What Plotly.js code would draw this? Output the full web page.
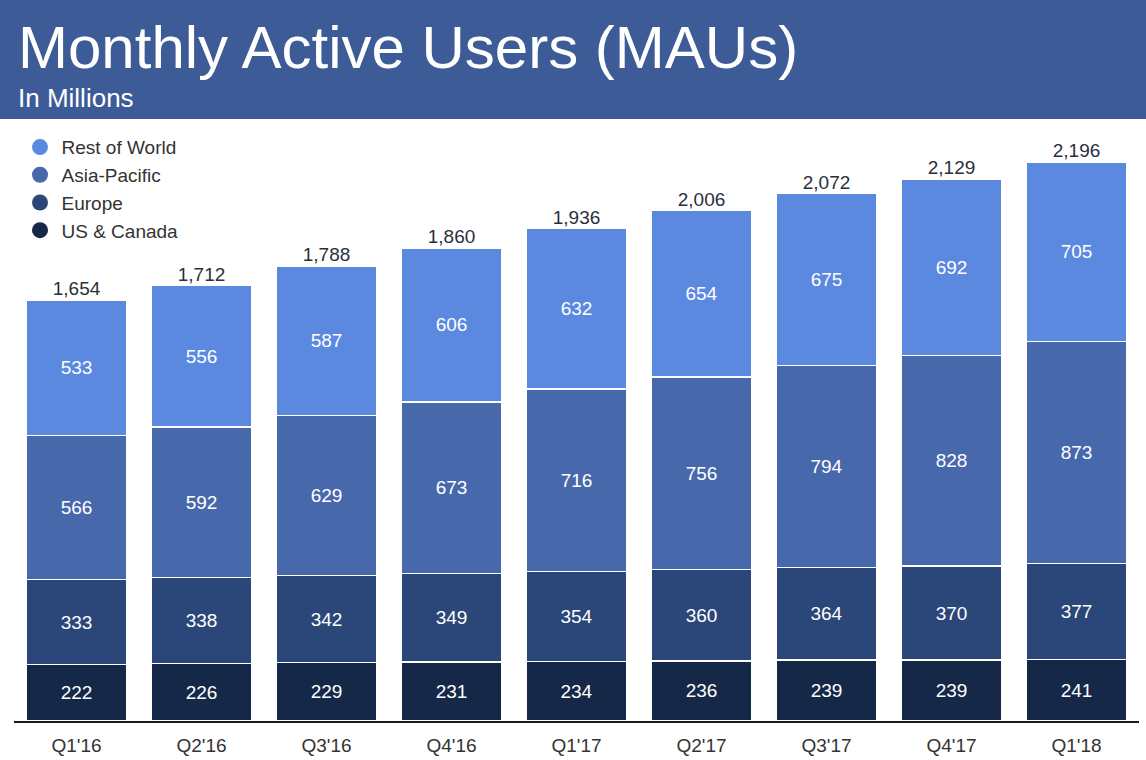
<!DOCTYPE html>
<html>
<head>
<meta charset="utf-8">
<script src="https://cdn.plot.ly/plotly-3.0.1.min.js"></script>
<style>
html,body{margin:0;padding:0;background:#fff;}
#chart{width:1146px;height:760px;}
</style>
</head>
<body>
<div id="chart"></div>
<script>
const quarters = ["Q1'16","Q2'16","Q3'16","Q4'16","Q1'17","Q2'17","Q3'17","Q4'17","Q1'18"];
const usCanada = [222,226,229,231,234,236,239,239,241];
const europe = [333,338,342,349,354,360,364,370,377];
const asiaPacific = [566,592,629,673,716,756,794,828,873];
const restOfWorld = [533,556,587,606,632,654,675,692,705];
const totals = [1654,1712,1788,1860,1936,2006,2072,2129,2196];

const seriesNames = ["US & Canada","Europe","Asia-Pacific","Rest of World"];
const seriesValues = [usCanada, europe, asiaPacific, restOfWorld];
const seriesColors = ["#162848","#2b4678","#4868ac","#5b89e0"];

const traces = [];
seriesValues.forEach((vals, i) => {
  traces.push({
    type: 'bar',
    x: quarters,
    y: vals,
    name: seriesNames[i],
    showlegend: false,
    marker: {color: seriesColors[i], line: {color: '#ffffff', width: 1.5}},
    text: vals.map(String),
    textposition: 'inside',
    insidetextanchor: 'middle',
    textfont: {color: '#ffffff', size: 19, family: 'Liberation Sans, Arial, sans-serif'},
    hoverinfo: 'x+y+name',
    cliponaxis: false
  });
});

traces.push({
  type: 'scatter',
  mode: 'text',
  x: quarters,
  y: totals,
  text: totals.map(v => v.toLocaleString('en-US')),
  textposition: 'top center',
  textfont: {color: '#2b2f3b', size: 19, family: 'Liberation Sans, Arial, sans-serif'},
  showlegend: false,
  hoverinfo: 'skip',
  cliponaxis: false
});

// legend entries (circle markers), top to bottom
[3,2,1,0].forEach(i => {
  traces.push({
    type: 'scatter',
    mode: 'markers',
    x: [null],
    y: [null],
    name: seriesNames[i],
    marker: {color: seriesColors[i], size: 18, symbol: 'circle'},
    showlegend: true
  });
});

const layout = {
  width: 1146,
  height: 760,
  margin: {l: 14, r: 7, t: 130, b: 39},
  paper_bgcolor: '#ffffff',
  plot_bgcolor: '#ffffff',
  barmode: 'stack',
  bargap: 0.2,
  font: {family: 'Liberation Sans, Arial, sans-serif', color: '#333333'},
  xaxis: {
    type: 'category',
    showline: true,
    linecolor: '#1a1a1a',
    linewidth: 1.5,
    showgrid: false,
    zeroline: false,
    ticks: '',
    tickfont: {size: 19, color: '#333333'},
    ticklabelstandoff: 7,
    fixedrange: true
  },
  yaxis: {
    range: [0, 2322],
    visible: false,
    showgrid: false,
    zeroline: false,
    fixedrange: true
  },
  legend: {
    x: 0.004, y: 1.003, xanchor: 'left', yanchor: 'top',
    traceorder: 'normal',
    font: {size: 19, color: '#333333'},
    bgcolor: 'rgba(0,0,0,0)',
    tracegroupgap: 0,
    itemwidth: 33
  },
  shapes: [{
    type: 'rect', xref: 'paper', yref: 'paper',
    x0: -0.02, x1: 1.02, y0: 1 + 11/591, y1: 1 + 130/591,
    fillcolor: '#3d5b97', line: {width: 0}, layer: 'below'
  }],
  annotations: [
    {xref: 'paper', yref: 'paper', x: 0.002, y: 1 + 118/591, xanchor: 'left', yanchor: 'top',
     text: 'Monthly Active Users (MAUs)', showarrow: false,
     font: {size: 60, color: '#ffffff', family: 'Liberation Sans, Arial, sans-serif'}},
    {xref: 'paper', yref: 'paper', x: 0.002, y: 1 + 49/591, xanchor: 'left', yanchor: 'top',
     text: 'In Millions', showarrow: false,
     font: {size: 26, color: '#ffffff', family: 'Liberation Sans, Arial, sans-serif'}}
  ]
};

Plotly.newPlot('chart', traces, layout, {displayModeBar: false, staticPlot: true});
</script>
</body>
</html>
